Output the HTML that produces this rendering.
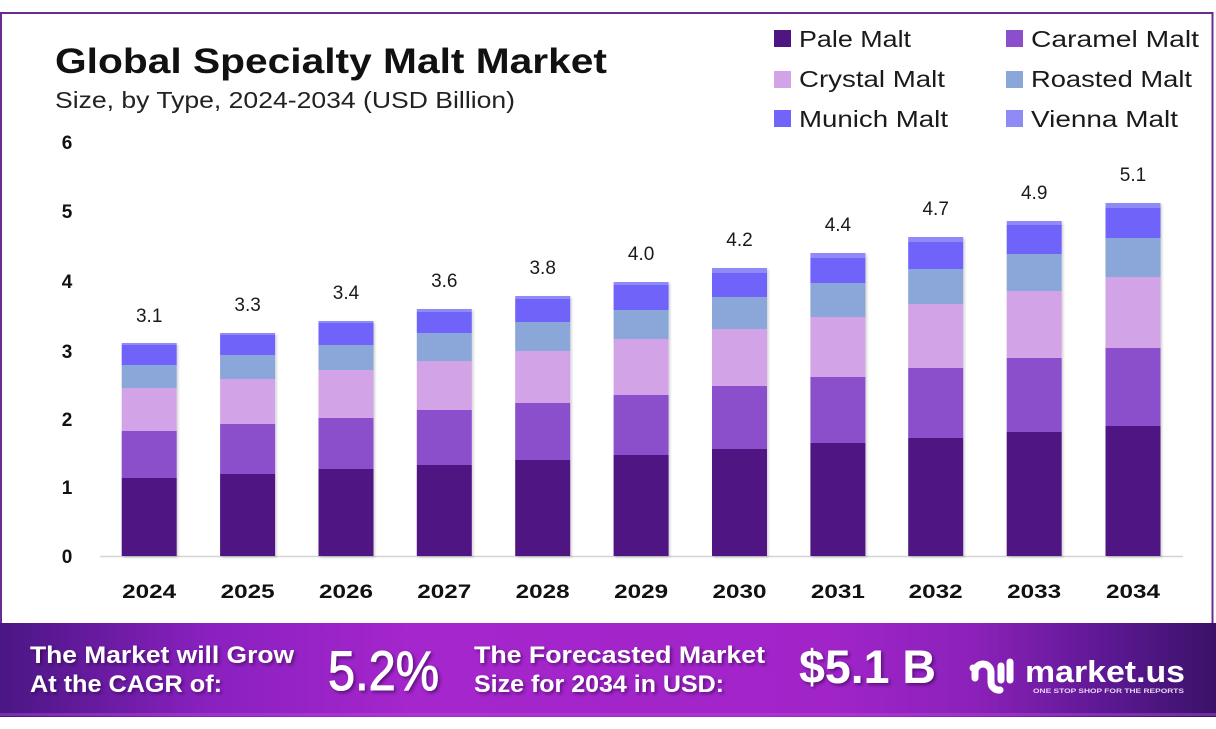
<!DOCTYPE html>
<html>
<head>
<meta charset="utf-8">
<style>
html,body{margin:0;padding:0;background:#fff;}
svg{display:block;}
text{font-family:"Liberation Sans",sans-serif;}
</style>
</head>
<body>
<svg width="1216" height="729" viewBox="0 0 1216 729" xmlns="http://www.w3.org/2000/svg">
<defs>
<linearGradient id="fg" x1="0" y1="0" x2="1" y2="0">
<stop offset="0" stop-color="#4a1684"/>
<stop offset="0.17" stop-color="#8a20bf"/>
<stop offset="0.34" stop-color="#a526cc"/>
<stop offset="0.68" stop-color="#a124c9"/>
<stop offset="0.8" stop-color="#8c21ba"/>
<stop offset="0.91" stop-color="#5d1893"/>
<stop offset="1" stop-color="#3a1269"/>
</linearGradient>
<filter id="sh" x="-10%" y="-10%" width="130%" height="130%">
<feDropShadow dx="1.5" dy="1.5" stdDeviation="1.2" flood-color="#000" flood-opacity="0.18"/>
</filter>
<filter id="tsh" x="-10%" y="-10%" width="130%" height="140%">
<feDropShadow dx="2" dy="2" stdDeviation="1.5" flood-color="#2a0640" flood-opacity="0.55"/>
</filter>
</defs>

<!-- frame -->
<rect x="0" y="0" width="1216" height="729" fill="#fff"/>
<rect x="1" y="13" width="1211.5" height="615" fill="#fff" stroke="#6b2a8f" stroke-width="2"/>

<!-- title -->
<text x="55" y="73" font-size="35" font-weight="bold" fill="#111" textLength="552" lengthAdjust="spacingAndGlyphs">Global Specialty Malt Market</text>
<text x="55" y="108" font-size="23" fill="#222" textLength="460" lengthAdjust="spacingAndGlyphs">Size, by Type, 2024-2034 (USD Billion)</text>

<!-- legend -->
<g font-size="23" fill="#1a1a1a">
<rect x="774" y="30" width="17" height="17" fill="#4f1583"/>
<text x="799" y="47" textLength="112" lengthAdjust="spacingAndGlyphs">Pale Malt</text>
<rect x="1006" y="30" width="17" height="17" fill="#8b4fcc"/>
<text x="1031" y="47" textLength="168" lengthAdjust="spacingAndGlyphs">Caramel Malt</text>
<rect x="774" y="71" width="17" height="17" fill="#d3a3e8"/>
<text x="799" y="87" textLength="146" lengthAdjust="spacingAndGlyphs">Crystal Malt</text>
<rect x="1006" y="71" width="17" height="17" fill="#8ba6d9"/>
<text x="1031" y="87" textLength="161" lengthAdjust="spacingAndGlyphs">Roasted Malt</text>
<rect x="774" y="110" width="17" height="17" fill="#7064fa"/>
<text x="799" y="127" textLength="149" lengthAdjust="spacingAndGlyphs">Munich Malt</text>
<rect x="1006" y="110" width="17" height="17" fill="#8f8af5"/>
<text x="1031" y="127" textLength="147" lengthAdjust="spacingAndGlyphs">Vienna Malt</text>
</g>

<!-- y axis labels -->
<g font-size="19" font-weight="bold" fill="#111" text-anchor="middle">
<text x="67" y="149">6</text>
<text x="67" y="218">5</text>
<text x="67" y="288">4</text>
<text x="67" y="358">3</text>
<text x="67" y="426">2</text>
<text x="67" y="494">1</text>
<text x="67" y="563">0</text>
</g>

<!-- axis line -->
<line x1="100" y1="556.5" x2="1183" y2="556.5" stroke="#d4d4d4" stroke-width="1.5"/>

<!-- bars -->
<g id="bars" filter="url(#sh)">
<g transform="translate(121.7,0)">
<rect y="478" width="55" height="78" fill="#4f1583"/>
<rect y="431" width="55" height="47" fill="#8b4fcc"/>
<rect y="388" width="55" height="43" fill="#d3a3e8"/>
<rect y="365" width="55" height="23" fill="#8ba6d9"/>
<rect y="345" width="55" height="20" fill="#7064fa"/>
<rect y="343" width="55" height="2" fill="#8f8af5"/>
</g>
<g transform="translate(220.1,0)">
<rect y="474" width="55" height="82" fill="#4f1583"/>
<rect y="424" width="55" height="50" fill="#8b4fcc"/>
<rect y="379" width="55" height="45" fill="#d3a3e8"/>
<rect y="355" width="55" height="24" fill="#8ba6d9"/>
<rect y="335" width="55" height="20" fill="#7064fa"/>
<rect y="333" width="55" height="2" fill="#8f8af5"/>
</g>
<g transform="translate(318.5,0)">
<rect y="469" width="55" height="87" fill="#4f1583"/>
<rect y="418" width="55" height="51" fill="#8b4fcc"/>
<rect y="370" width="55" height="48" fill="#d3a3e8"/>
<rect y="345" width="55" height="25" fill="#8ba6d9"/>
<rect y="323" width="55" height="22" fill="#7064fa"/>
<rect y="321" width="55" height="2" fill="#8f8af5"/>
</g>
<g transform="translate(416.8,0)">
<rect y="465" width="55" height="91" fill="#4f1583"/>
<rect y="410" width="55" height="55" fill="#8b4fcc"/>
<rect y="361" width="55" height="49" fill="#d3a3e8"/>
<rect y="333" width="55" height="28" fill="#8ba6d9"/>
<rect y="312" width="55" height="21" fill="#7064fa"/>
<rect y="309" width="55" height="3" fill="#8f8af5"/>
</g>
<g transform="translate(515.2,0)">
<rect y="460" width="55" height="96" fill="#4f1583"/>
<rect y="403" width="55" height="57" fill="#8b4fcc"/>
<rect y="351" width="55" height="52" fill="#d3a3e8"/>
<rect y="322" width="55" height="29" fill="#8ba6d9"/>
<rect y="299" width="55" height="23" fill="#7064fa"/>
<rect y="296" width="55" height="3" fill="#8f8af5"/>
</g>
<g transform="translate(613.6,0)">
<rect y="455" width="55" height="101" fill="#4f1583"/>
<rect y="395" width="55" height="60" fill="#8b4fcc"/>
<rect y="339" width="55" height="56" fill="#d3a3e8"/>
<rect y="310" width="55" height="29" fill="#8ba6d9"/>
<rect y="285" width="55" height="25" fill="#7064fa"/>
<rect y="282" width="55" height="3" fill="#8f8af5"/>
</g>
<g transform="translate(712,0)">
<rect y="449" width="55" height="107" fill="#4f1583"/>
<rect y="386" width="55" height="63" fill="#8b4fcc"/>
<rect y="329" width="55" height="57" fill="#d3a3e8"/>
<rect y="297" width="55" height="32" fill="#8ba6d9"/>
<rect y="273" width="55" height="24" fill="#7064fa"/>
<rect y="268" width="55" height="5" fill="#8f8af5"/>
</g>
<g transform="translate(810.4,0)">
<rect y="443" width="55" height="113" fill="#4f1583"/>
<rect y="377" width="55" height="66" fill="#8b4fcc"/>
<rect y="317" width="55" height="60" fill="#d3a3e8"/>
<rect y="283" width="55" height="34" fill="#8ba6d9"/>
<rect y="258" width="55" height="25" fill="#7064fa"/>
<rect y="253" width="55" height="5" fill="#8f8af5"/>
</g>
<g transform="translate(908.2,0)">
<rect y="438" width="55" height="118" fill="#4f1583"/>
<rect y="368" width="55" height="70" fill="#8b4fcc"/>
<rect y="304" width="55" height="64" fill="#d3a3e8"/>
<rect y="269" width="55" height="35" fill="#8ba6d9"/>
<rect y="242" width="55" height="27" fill="#7064fa"/>
<rect y="237" width="55" height="5" fill="#8f8af5"/>
</g>
<g transform="translate(1006.7,0)">
<rect y="432" width="55" height="124" fill="#4f1583"/>
<rect y="358" width="55" height="74" fill="#8b4fcc"/>
<rect y="291" width="55" height="67" fill="#d3a3e8"/>
<rect y="254" width="55" height="37" fill="#8ba6d9"/>
<rect y="225" width="55" height="29" fill="#7064fa"/>
<rect y="221" width="55" height="4" fill="#8f8af5"/>
</g>
<g transform="translate(1105.5,0)">
<rect y="426" width="55" height="130" fill="#4f1583"/>
<rect y="348" width="55" height="78" fill="#8b4fcc"/>
<rect y="277" width="55" height="71" fill="#d3a3e8"/>
<rect y="238" width="55" height="39" fill="#8ba6d9"/>
<rect y="208" width="55" height="30" fill="#7064fa"/>
<rect y="203" width="55" height="5" fill="#8f8af5"/>
</g>
</g>

<!-- value labels -->
<g font-size="19" fill="#1a1a1a" text-anchor="middle">
<text x="149.2" y="322">3.1</text>
<text x="247.6" y="311">3.3</text>
<text x="346" y="299">3.4</text>
<text x="444.3" y="287">3.6</text>
<text x="542.7" y="274">3.8</text>
<text x="641.1" y="260">4.0</text>
<text x="739.5" y="246">4.2</text>
<text x="837.9" y="231">4.4</text>
<text x="935.7" y="215">4.7</text>
<text x="1034.2" y="199">4.9</text>
<text x="1133" y="181">5.1</text>
</g>

<!-- x axis labels -->
<g font-size="19" font-weight="bold" fill="#111" text-anchor="middle">
<text x="149.2" y="598" textLength="54" lengthAdjust="spacingAndGlyphs">2024</text>
<text x="247.6" y="598" textLength="54" lengthAdjust="spacingAndGlyphs">2025</text>
<text x="346" y="598" textLength="54" lengthAdjust="spacingAndGlyphs">2026</text>
<text x="444.3" y="598" textLength="54" lengthAdjust="spacingAndGlyphs">2027</text>
<text x="542.7" y="598" textLength="54" lengthAdjust="spacingAndGlyphs">2028</text>
<text x="641.1" y="598" textLength="54" lengthAdjust="spacingAndGlyphs">2029</text>
<text x="739.5" y="598" textLength="54" lengthAdjust="spacingAndGlyphs">2030</text>
<text x="837.9" y="598" textLength="54" lengthAdjust="spacingAndGlyphs">2031</text>
<text x="935.7" y="598" textLength="54" lengthAdjust="spacingAndGlyphs">2032</text>
<text x="1034.2" y="598" textLength="54" lengthAdjust="spacingAndGlyphs">2033</text>
<text x="1133" y="598" textLength="54" lengthAdjust="spacingAndGlyphs">2034</text>
</g>

<!-- footer -->
<rect x="0" y="623" width="1216" height="94" fill="url(#fg)"/>
<rect x="0" y="713" width="1216" height="3" fill="#b04ed6" opacity="0.45"/>

<g fill="#fff" font-weight="bold" filter="url(#tsh)">
<text x="30" y="663" font-size="24" textLength="264" lengthAdjust="spacingAndGlyphs">The Market will Grow</text>
<text x="30" y="692" font-size="24" textLength="192" lengthAdjust="spacingAndGlyphs">At the CAGR of:</text>
<text x="328" y="690" font-size="56" font-weight="normal" stroke="#fff" stroke-width="1" textLength="111" lengthAdjust="spacingAndGlyphs">5.2%</text>
<text x="474" y="663" font-size="24" textLength="291" lengthAdjust="spacingAndGlyphs">The Forecasted Market</text>
<text x="474" y="692" font-size="24" textLength="250" lengthAdjust="spacingAndGlyphs">Size for 2034 in USD:</text>
<text x="799" y="683" font-size="47" textLength="137" lengthAdjust="spacingAndGlyphs">$5.1 B</text>
</g>

<!-- logo -->
<g fill="none" stroke="#fff" stroke-linecap="round" stroke-width="7">
<path d="M975 678 L975 672 A8 8 0 0 1 991 672 L991 682 A8 8 0 0 0 1000 690"/>
<line x1="1001" y1="666" x2="1001" y2="680"/>
<line x1="1010" y1="662" x2="1010" y2="680"/>
</g>
<circle cx="973" cy="668" r="3.5" fill="#fff"/>
<text x="1025" y="682" font-size="31" font-weight="bold" fill="#fff" textLength="160" lengthAdjust="spacingAndGlyphs">market.us</text>
<text x="1033" y="693" font-size="6.5" font-weight="bold" fill="#e8d5f2" textLength="151" lengthAdjust="spacingAndGlyphs">ONE STOP SHOP FOR THE REPORTS</text>
</svg>
</body>
</html>
